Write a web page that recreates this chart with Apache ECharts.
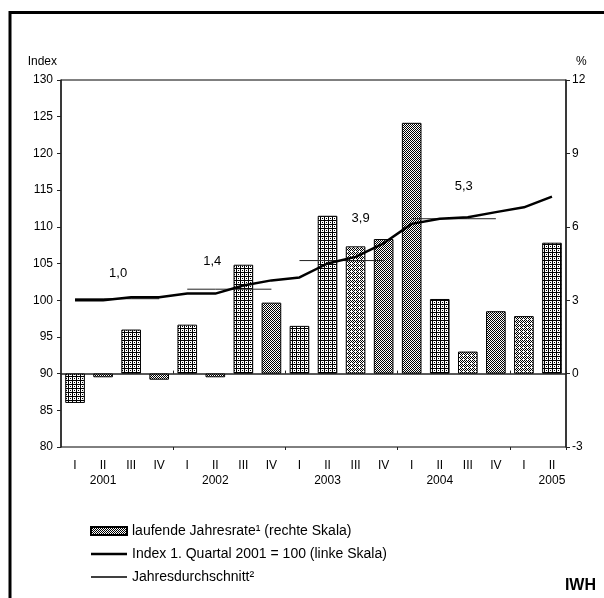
<!DOCTYPE html>
<html><head><meta charset="utf-8">
<script src="https://cdn.jsdelivr.net/npm/echarts@6/dist/echarts.min.js"></script>
<style>html,body{margin:0;padding:0;background:#fff}#c{width:604px;height:598px}</style>
</head><body><div id="c"></div>
<script>
// ---- data ----
const quarters = ['I','II','III','IV','I','II','III','IV','I','II','III','IV','I','II','III','IV','I','II'];
const years = ['2001','2002','2003','2004','2005'];
const rateValues = [-1.2, -0.15, 1.8, -0.25, 2.0, -0.15, 4.45, 2.9, 1.95, 6.45, 5.2, 5.5, 10.25, 3.05, 0.9, 2.55, 2.35, 5.35];
const indexValues = [100.0, 100.0, 100.4, 100.4, 100.9, 100.9, 102.0, 102.7, 103.1, 105.0, 105.9, 107.75, 110.4, 111.1, 111.3, 112.0, 112.65, 114.1];
const avgValues = [100.2, 101.5, 105.4, 111.1];
const avgRateLabels = ['1,0', '1,4', '3,9', '5,3'];
const leftTicks = [80, 130, 5];
const rightTicks = [-3, 12, 3];

const nameRate = 'laufende Jahresrate\u00b9 (rechte Skala)';
const nameIndex = 'Index 1. Quartal 2001 = 100 (linke Skala)';
const nameAvg = 'Jahresdurchschnitt\u00b2';

// ---- patterns (style) ----
function tile(size, pix) {
  const c = document.createElement('canvas');
  c.width = size; c.height = size;
  const g = c.getContext('2d');
  g.fillStyle = '#fff'; g.fillRect(0, 0, size, size);
  g.fillStyle = '#000';
  pix.forEach(p => g.fillRect(p[0], p[1], 1, 1));
  return { image: c, repeat: 'repeat' };
}
const patA = tile(4, [[0,0],[1,0],[2,0],[3,0],[0,1],[0,2],[0,3],[2,2]]);
const patB = tile(2, [[0,0],[1,1]]);
const patC = tile(4, [[0,0],[2,0],[1,1],[3,1],[0,2],[2,2],[1,3]]);
const barPat = [patA, patB, patA, patB, patA, patB, patA, patB, patA, patA, patC, patB, patB, patA, patC, patB, patC, patA];

// label placement (style): which quarter of the year carries the label, and its shift
const labelAt = [1, 1, 2, 2];
const labelOffset = [[15, -25], [-3, -28], [5, -42], [-4, -32]];

const avgSeries = avgValues.map((v, y) => {
  const data = quarters.map((q, i) => {
    if (Math.floor(i / 4) !== y) return null;
    if (i % 4 === labelAt[y]) {
      return {
        value: v, symbol: 'circle', symbolSize: 0.1,
        label: { show: true, formatter: avgRateLabels[y], position: 'inside', offset: labelOffset[y],
                 fontSize: 13, color: '#000', fontFamily: 'Liberation Sans, Arial' }
      };
    }
    return v;
  });
  return {
    name: nameAvg, type: 'line', yAxisIndex: 0, symbol: 'none', data: data,
    lineStyle: { color: '#222', width: 1 }, itemStyle: { color: '#222' }, z: 3, silent: true
  };
});

const chart = echarts.init(document.getElementById('c'), null, { renderer: 'canvas' });
const font = 'Liberation Sans, Arial, sans-serif';
chart.setOption({
  animation: false,
  textStyle: { fontFamily: font },
  grid: { left: 61, right: 38, top: 80, bottom: 151, show: true, borderColor: '#000', borderWidth: 1 },
  legend: {
    orient: 'vertical', left: 85, top: 519, itemWidth: 36, itemHeight: 8, itemGap: 9,
    textStyle: { fontSize: 14, color: '#000', fontFamily: font },
    data: [
      { name: nameRate, icon: 'rect' },
      { name: nameIndex, icon: 'path://M0,0H36V2.5H0Z', symbolKeepAspect: true, itemStyle: { color: '#000' } },
      { name: nameAvg, icon: 'path://M0,0H36V1.3H0Z', symbolKeepAspect: true, itemStyle: { color: '#000' } }
    ]
  },
  xAxis: [{
    type: 'category', data: quarters, position: 'bottom', offset: 0,
    axisLine: { lineStyle: { color: '#222', width: 1.5 } },
    axisTick: { show: true, inside: true, length: 3, interval: (i) => i % 4 === 0 && i > 0, lineStyle: { color: '#222' } },
    axisLabel: { interval: 0, color: '#000', fontSize: 12, margin: 13, fontFamily: font }
  }, {
    type: 'category', data: quarters, position: 'bottom', offset: 0,
    axisLine: { show: false },
    axisTick: { show: true, inside: false, length: 3, interval: (i) => i % 4 === 0 && i > 0, lineStyle: { color: '#222' } },
    axisLabel: { interval: 0, color: '#000', fontSize: 12, margin: 28, fontFamily: font,
      formatter: (v, i) => (i % 4 === 1 ? years[Math.floor(i / 4)] : '') }
  }],
  yAxis: [{
    type: 'value', position: 'left', min: leftTicks[0], max: leftTicks[1], interval: leftTicks[2],
    name: 'Index', nameLocation: 'end', nameGap: 12,
    nameTextStyle: { color: '#000', fontSize: 12, align: 'right', padding: [0, 4, 0, 0], fontFamily: font },
    axisLine: { show: true, lineStyle: { color: '#222', width: 1.5 } },
    axisTick: { show: true, length: 4, lineStyle: { color: '#222' } },
    axisLabel: { color: '#000', fontSize: 12, margin: 8, fontFamily: font },
    splitLine: { show: false }
  }, {
    type: 'value', position: 'right', min: rightTicks[0], max: rightTicks[1], interval: rightTicks[2],
    name: '%', nameLocation: 'end', nameGap: 12,
    nameTextStyle: { color: '#000', fontSize: 12, align: 'left', padding: [0, 0, 0, 10], fontFamily: font },
    axisLine: { show: true, lineStyle: { color: '#222', width: 1.5 } },
    axisTick: { show: true, length: 4, lineStyle: { color: '#222' } },
    axisLabel: { color: '#000', fontSize: 12, margin: 6, fontFamily: font },
    splitLine: { show: false }
  }],
  series: [{
    name: nameRate, type: 'bar', yAxisIndex: 1, barWidth: '70%',
    itemStyle: { color: patB, borderColor: '#000', borderWidth: 1 },
    data: rateValues.map((v, i) => ({ value: v, itemStyle: { color: barPat[i] } })),
    z: 2
  }, {
    name: nameIndex, type: 'line', yAxisIndex: 0, symbol: 'none', data: indexValues,
    lineStyle: { color: '#000', width: 2.5 }, itemStyle: { color: '#000' }, z: 4
  }].concat(avgSeries),
  graphic: [{
    type: 'rect', shape: { x: 10, y: 12.5, width: 700, height: 700 },
    style: { fill: 'none', stroke: '#000', lineWidth: 3 }, silent: true
  }, {
    type: 'text', right: 8, bottom: 4,
    style: { text: 'IWH', font: 'bold 16px ' + font, fill: '#000' }
  }]
});
</script>
</body></html>
